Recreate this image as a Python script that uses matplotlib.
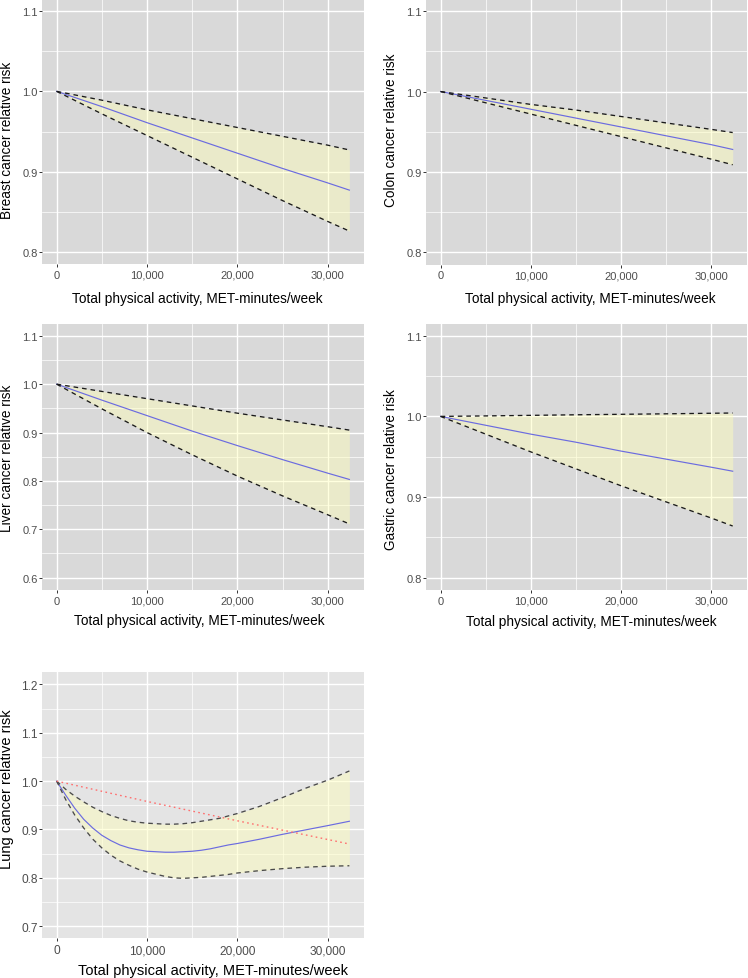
import matplotlib
matplotlib.use("Agg")
import matplotlib.pyplot as plt
from matplotlib.ticker import FuncFormatter, MultipleLocator, FixedLocator

plt.rcParams['font.family'] = ['Liberation Sans', 'DejaVu Sans']

# ---------------- data ----------------
x_lin = [0, 5000, 10000, 15000, 20000, 25000, 30000, 32400]

breast_rr = [1.0, 0.981, 0.961, 0.942, 0.923, 0.904, 0.886, 0.877]
breast_hi = [1.0, 0.989, 0.977, 0.966, 0.955, 0.944, 0.933, 0.927]
breast_lo = [1.0, 0.972, 0.945, 0.918, 0.891, 0.864, 0.838, 0.826]

colon_rr = [1.0, 0.989, 0.978, 0.967, 0.956, 0.945, 0.934, 0.928]
colon_hi = [1.0, 0.992, 0.984, 0.977, 0.969, 0.961, 0.953, 0.949]
colon_lo = [1.0, 0.986, 0.972, 0.958, 0.944, 0.930, 0.916, 0.909]

liver_rr = [1.0, 0.967, 0.935, 0.903, 0.873, 0.844, 0.816, 0.803]
liver_hi = [1.0, 0.985, 0.970, 0.955, 0.940, 0.926, 0.912, 0.905]
liver_lo = [1.0, 0.949, 0.900, 0.854, 0.810, 0.769, 0.730, 0.711]

gastric_rr = [1.0, 0.989, 0.978, 0.968, 0.957, 0.947, 0.937, 0.932]
gastric_hi = [1.0, 1.0006, 1.0013, 1.0020, 1.0026, 1.0032, 1.0039, 1.0042]
gastric_lo = [1.0, 0.978, 0.956, 0.935, 0.914, 0.894, 0.874, 0.864]

x_lung = [0, 1000, 2000, 3000, 4000, 5000, 6000, 7000, 8000, 9000, 10000,
          12000, 13000, 14000, 15000, 16000, 17000, 18000, 19000, 20000,
          22500, 25000, 27500, 30000, 32400]
lung_rr = [1.0, 0.971, 0.944, 0.921, 0.903, 0.888, 0.877, 0.868, 0.862, 0.858, 0.855,
           0.853, 0.853, 0.854, 0.855, 0.857, 0.860, 0.864, 0.868, 0.871,
           0.880, 0.890, 0.899, 0.908, 0.917]
lung_hi = [1.0, 0.983, 0.969, 0.957, 0.946, 0.937, 0.929, 0.923, 0.918, 0.915, 0.913,
           0.911, 0.911, 0.912, 0.914, 0.917, 0.920, 0.923, 0.928, 0.933,
           0.948, 0.966, 0.985, 1.002, 1.021]
lung_lo = [1.0, 0.962, 0.930, 0.903, 0.880, 0.862, 0.847, 0.835, 0.826, 0.818, 0.812,
           0.803, 0.800, 0.799, 0.800, 0.801, 0.803, 0.805, 0.807, 0.810,
           0.815, 0.819, 0.822, 0.824, 0.825]
x_lung_linear = [0, 10000, 20000, 32400]
lung_linear_rr = [1.0, 0.958, 0.918, 0.870]

xlabel_text = "Total physical activity, MET-minutes/week"

# ---------------- figure ----------------
W, H = 748, 979
fig = plt.figure(figsize=(W / 100, H / 100), dpi=100)


def make_axes(left, top, right, bottom):
    return fig.add_axes([left / W, 1 - bottom / H, (right - left) / W, (bottom - top) / H])


def panel(ax, x, rr, lo, hi, ylabel, ylo, yhi, bg, xl_pos, yl_pos,
          title_fs=9.8, tick_fs=8.0, dash_col='#1a1a1a', lin=None):
    ax.set_facecolor(bg)
    for s in ax.spines.values():
        s.set_visible(False)
    ax.set_axisbelow(True)
    # limits with ggplot 5% expansion
    xr = max(x) - min(x)
    ax.set_xlim(min(x) - 0.05 * xr, max(x) + 0.05 * xr)
    yr = yhi - ylo
    ax.set_ylim(ylo - 0.05 * yr, yhi + 0.05 * yr)
    ax.xaxis.set_major_locator(FixedLocator([0, 10000, 20000, 30000]))
    ax.xaxis.set_minor_locator(FixedLocator([5000, 15000, 25000]))
    ax.yaxis.set_major_locator(MultipleLocator(0.1))
    ax.yaxis.set_minor_locator(MultipleLocator(0.05))
    ax.xaxis.set_major_formatter(FuncFormatter(lambda v, p: f"{int(round(v)):,}"))
    ax.yaxis.set_major_formatter(FuncFormatter(lambda v, p: f"{v:.1f}"))
    ax.grid(which='major', color='white', lw=1.0)
    ax.grid(which='minor', color='white', lw=0.5)
    ax.tick_params(which='major', length=2.2, width=0.7, color='#333333',
                   labelcolor='#4D4D4D', labelsize=tick_fs)
    ax.tick_params(axis='y', which='major', pad=0.8)
    ax.tick_params(axis='x', which='major', pad=2.0)
    ax.tick_params(which='minor', length=0)

    ax.fill_between(x, lo, hi, color='#FFFFB8', alpha=0.45, lw=0, zorder=1)
    ax.plot(x, rr, color='#6B6BE0', lw=0.85, zorder=3)
    for band in (lo, hi):
        ax.plot(x, band, color=dash_col, lw=0.95, ls=(0, (3.5, 3.0)), zorder=4)
    if lin is not None:
        ax.plot(lin[0], lin[1], color='#FF6F6F', lw=1.0, ls=(0, (1.2, 2.4)), zorder=4)

    ax.set_xlabel(xlabel_text, fontsize=title_fs, color='black')
    ax.set_ylabel(ylabel, fontsize=title_fs, color='black')
    ax.xaxis.set_label_coords(*xl_pos)
    ax.xaxis.label.set_va('center')
    ax.yaxis.set_label_coords(*yl_pos)
    ax.yaxis.label.set_va('center')


bg_top = '#D9D9D9'

ax1 = make_axes(42, 0, 364, 265)
panel(ax1, x_lin, breast_rr, breast_lo, breast_hi, "Breast cancer relative risk",
      0.8, 1.1, bg_top, (0.481, -0.128), (-0.108, 0.472))

ax2 = make_axes(426, 0, 747.3, 265.5)
panel(ax2, x_lin, colon_rr, colon_lo, colon_hi, "Colon cancer relative risk",
      0.8, 1.1, bg_top, (0.511, -0.126), (-0.110, 0.510))

ax3 = make_axes(42, 324.7, 364, 590.7)
panel(ax3, x_lin, liver_rr, liver_lo, liver_hi, "Liver cancer relative risk",
      0.6, 1.1, bg_top, (0.487, -0.114), (-0.108, 0.499))

ax4 = make_axes(426, 324.7, 747.3, 590.7)
panel(ax4, x_lin, gastric_rr, gastric_lo, gastric_hi, "Gastric cancer relative risk",
      0.8, 1.1, bg_top, (0.516, -0.117), (-0.109, 0.457))

ax5 = make_axes(42, 673.3, 364, 939.3)
panel(ax5, x_lung, lung_rr, lung_lo, lung_hi, "Lung cancer relative risk",
      0.7, 1.2, '#E4E4E4', (0.530, -0.118), (-0.108, 0.566),
      title_fs=10.5, tick_fs=8.6, dash_col='#4a4a4a',
      lin=(x_lung_linear, lung_linear_rr))

fig.savefig("out.png", dpi=100)
